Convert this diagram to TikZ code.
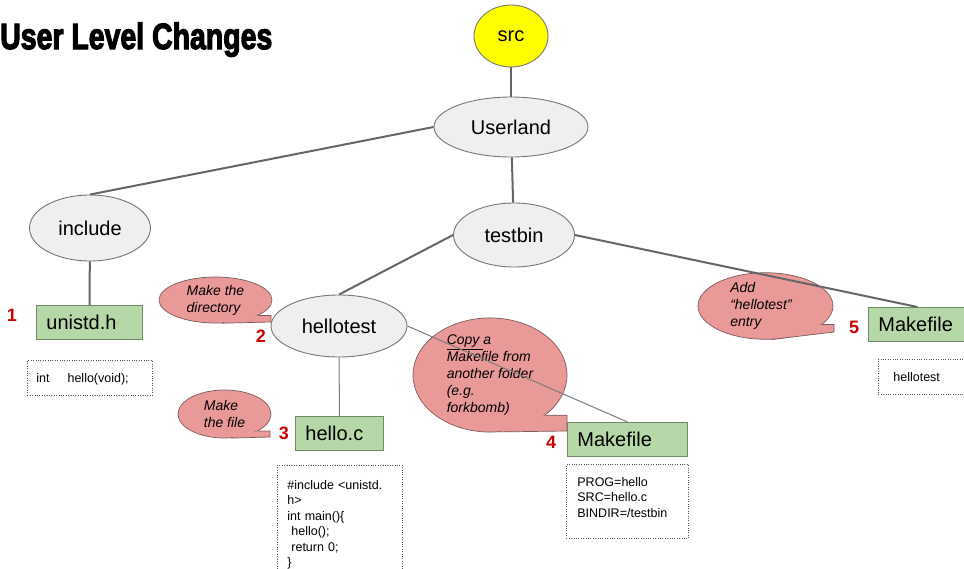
\documentclass[tikz,border=0pt]{standalone}
\usepackage{fontspec}
\setmainfont{Liberation Sans}
\newfontfamily\titlefont[FakeBold=3.5]{Liberation Sans Bold}
\usetikzlibrary{shapes.geometric}
\definecolor{dirfill}{HTML}{EFEFEF}
\definecolor{dirline}{HTML}{767676}
\definecolor{srcfill}{HTML}{FFFF00}
\definecolor{filefill}{HTML}{B6D7A8}
\definecolor{fileline}{HTML}{708A68}
\definecolor{notefill}{HTML}{EA9999}
\definecolor{noteline}{HTML}{7A5C5C}
\definecolor{stepred}{HTML}{CC0000}
\definecolor{treeline}{HTML}{666666}
\definecolor{codeline}{HTML}{555555}

\begin{document}
\begin{tikzpicture}[x=1pt, y=-1pt,
    dir/.style={ellipse, draw=dirline, fill=dirfill, line width=0.9pt, inner sep=0pt, font=\fontsize{20}{24}\selectfont},
    file/.style={rectangle, draw=fileline, fill=filefill, line width=0.9pt, anchor=north west, inner xsep=10pt, inner ysep=0pt, minimum height=34pt, text width=#1, align=left, font=\fontsize{20}{24}\selectfont},
    note/.style={ellipse, draw=noteline, fill=notefill, line width=0.7pt, inner sep=0pt, align=left, font=\fontsize{14}{17}\selectfont\itshape},
    code/.style={rectangle, draw=codeline, line width=0.8pt, dash pattern=on 0.8pt off 1.6pt, anchor=north west, inner ysep=0pt, align=left, font=\fontsize{12.5}{15.4}\selectfont},
    stepnum/.style={text=stepred, inner sep=0pt, font=\fontsize{18}{20}\selectfont\bfseries},
    branch/.style={draw=treeline, line width=2pt},
    twig/.style={draw=treeline!85, line width=1pt}]
    \clip (0,0) rectangle (964,568);

    \node[anchor=base west, inner sep=0pt] (title) at (0,49) {\titlefont\fontsize{36.5}{40}\selectfont\scalebox{0.78}[1]{User Level Changes}};

    \node[ellipse, draw=dirline, fill=srcfill, line width=0.9pt, inner sep=0pt, minimum width=74pt, minimum height=62pt, font=\fontsize{20}{24}\selectfont] (src) at (511,36) {src};
    \node[dir, minimum width=154pt, minimum height=60pt] (userland) at (511,127) {Userland};
    \node[dir, minimum width=121pt, minimum height=66pt] (include) at (90,228) {include};
    \node[dir, minimum width=121pt, minimum height=64pt] (testbin) at (514,235) {testbin};
    \node[dir, minimum width=136pt, minimum height=62pt] (hellotest) at (339,326) {hellotest};

    \node[file=86pt] (unistd) at (36,305) {unistd.h};
    \node[file=68pt] (helloc) at (295,416) {hello.c};
    \node[file=100pt] (mkfour) at (567,422) {Makefile};
    \node[file=78pt] (mkfive) at (868,307) {Makefile};

    \node[code, inner xsep=9pt, text width=107pt, text height=22pt, text depth=13pt] (protocode) at (27,360) {int\hspace{18pt}hello(void);};
    \node[code, inner xsep=10pt, text width=105pt, text height=24pt, text depth=120pt] (mainc) at (277,465) {\#include <unistd.\\h>\\int main()\{\\\hspace*{4pt}hello();\\\hspace*{4pt}return 0;\\\}};
    \node[code, inner xsep=11pt, text width=100pt, text height=22pt, text depth=52pt] (mkcode) at (566,464) {PROG=hello\\SRC=hello.c\\BINDIR=/testbin};
    \node[code, inner xsep=15pt, text width=80pt, text height=22pt, text depth=13pt] (entrycode) at (878,359) {hellotest};

    % callouts
    \node[note, minimum width=113pt, minimum height=46pt] (notedir) at (215.5,300) {Make the\\directory};
    \coordinate (dirtip) at (271,322);
    \fill[notefill] (notedir.-20) -- (notedir.-20 -| dirtip) -- (dirtip) -- (notedir.-75) -- cycle;
    \draw[noteline, line width=0.7pt] (notedir.-20) -- (notedir.-20 -| dirtip) -- (dirtip) -- (notedir.-75);

    \node[note, minimum width=93pt, minimum height=48pt] (notefile) at (224.5,414) {Make\\the file};
    \coordinate (filetip) at (270,437);
    \fill[notefill] (notefile.-27) -- (notefile.-27 -| filetip) -- (filetip) -- (notefile.-75) -- cycle;
    \draw[noteline, line width=0.7pt] (notefile.-27) -- (notefile.-27 -| filetip) -- (filetip) -- (notefile.-75);

    \node[note, minimum width=154pt, minimum height=114pt] (notecopy) at (490,375) {\underline{Copy }a\\Makefile from\\another folder\\(e.g.\\forkbomb)};
    \coordinate (copytip) at (567,431);
    \fill[notefill] (notecopy.-36) -- (notecopy.-36 -| copytip) -- (copytip) -- (notecopy.-80) -- cycle;
    \draw[noteline, line width=0.7pt] (notecopy.-36) -- (notecopy.-36 -| copytip) -- (copytip) -- (notecopy.-80);

    \node[note, minimum width=135pt, minimum height=52pt, xshift=-7pt] (noteadd) at (772.5,306) {\hspace*{-9pt}Add\\\hspace*{-9pt}“hellotest”\\\hspace*{-9pt}entry};
    \coordinate (addtip) at (834,332);
    \fill[notefill] (noteadd.-18) -- (noteadd.-18 -| addtip) -- (addtip) -- (noteadd.-80) -- cycle;
    \draw[noteline, line width=0.7pt] (noteadd.-18) -- (noteadd.-18 -| addtip) -- (addtip) -- (noteadd.-80);

    \node[stepnum] (one) at (12,315) {1};
    \node[stepnum] (two) at (261,336) {2};
    \node[stepnum] (three) at (284,433) {3};
    \node[stepnum] (four) at (551,442) {4};
    \node[stepnum] (five) at (854,327) {5};

    \draw[branch] (src) -- (userland);
    \draw[branch] (userland.west) -- (include.north);
    \draw[branch] (userland) -- (testbin);
    \draw[branch] (include) -- (unistd);
    \draw[branch] (testbin.west) -- (hellotest.north);
    \draw[branch] (testbin.east) -- (mkfive.north);
    \draw[twig] (hellotest) -- (helloc);
    \draw[twig] (hellotest.east) -- (mkfour.north);
\end{tikzpicture}
\end{document}
